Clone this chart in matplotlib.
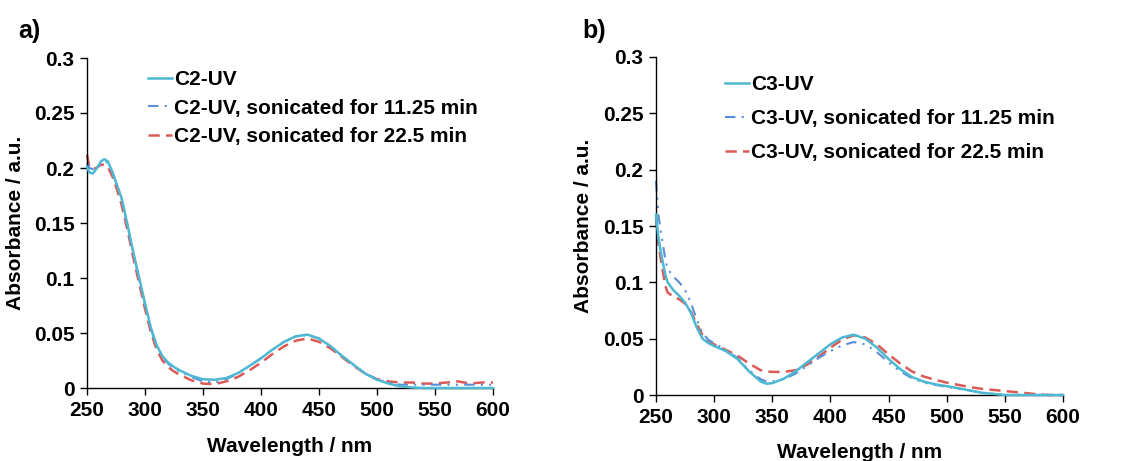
import matplotlib
matplotlib.use("Agg")
import matplotlib.pyplot as plt
from matplotlib.ticker import FixedLocator, FuncFormatter

plt.rcParams['font.family'] = ['Liberation Sans', 'DejaVu Sans']
plt.rcParams['font.weight'] = 'bold'

# ---------------- Panel a data ----------------
wl_a = [250, 252, 255, 258, 262, 265, 268, 272, 276, 280, 285, 290, 295, 300, 305, 310, 315, 320, 325,
        330, 340, 350, 360, 370, 380, 390, 400, 410, 420, 430, 440, 450, 460, 470, 480, 490, 500,
        510, 520, 530, 540, 550, 560, 570, 580, 590, 600]
c2_uv = [0.201, 0.196, 0.195, 0.199, 0.206, 0.208, 0.206, 0.196, 0.184, 0.172, 0.148, 0.123, 0.100,
         0.077, 0.055, 0.039, 0.029, 0.023, 0.019, 0.016, 0.011, 0.008, 0.0075, 0.009, 0.0135, 0.020,
         0.027, 0.035, 0.042, 0.047, 0.0485, 0.045, 0.038, 0.029, 0.021, 0.013, 0.0075, 0.004, 0.0015,
         0.0005, 0.0, 0.0, 0.0, 0.0, 0.0, 0.0, 0.0]
c2_son_1125 = [0.205, 0.200, 0.199, 0.200, 0.204, 0.206, 0.205, 0.196, 0.184, 0.171, 0.147, 0.122, 0.099,
               0.076, 0.054, 0.038, 0.028, 0.022, 0.018, 0.015, 0.010, 0.006, 0.005, 0.008, 0.013, 0.020,
               0.027, 0.035, 0.042, 0.047, 0.048, 0.045, 0.038, 0.029, 0.021, 0.013, 0.008, 0.005, 0.003,
               0.003, 0.003, 0.003, 0.003, 0.003, 0.003, 0.003, 0.003]
c2_son_225 = [0.212, 0.201, 0.199, 0.200, 0.203, 0.203, 0.201, 0.192, 0.180, 0.166, 0.143, 0.118, 0.095,
              0.072, 0.051, 0.035, 0.025, 0.019, 0.015, 0.012, 0.007, 0.004, 0.0035, 0.006, 0.010, 0.016,
              0.023, 0.031, 0.038, 0.043, 0.045, 0.042, 0.036, 0.028, 0.020, 0.013, 0.008, 0.006, 0.005,
              0.005, 0.004, 0.004, 0.005, 0.006, 0.004, 0.005, 0.005]

# ---------------- Panel b data ----------------
wl_b = [250, 252, 255, 258, 260, 265, 270, 275, 280, 285, 290, 295, 300, 310, 320, 330, 340, 345, 350,
        360, 370, 380, 390, 400, 410, 420, 430, 440, 450, 460, 470, 480, 490, 500, 510, 520, 530, 540,
        550, 560, 570, 580, 590, 600]
c3_uv = [0.160, 0.140, 0.122, 0.107, 0.100, 0.093, 0.088, 0.082, 0.073, 0.060, 0.050, 0.046, 0.0435,
         0.039, 0.032, 0.021, 0.012, 0.010, 0.0105, 0.0145, 0.021, 0.029, 0.037, 0.045, 0.051, 0.0535,
         0.050, 0.042, 0.032, 0.023, 0.016, 0.012, 0.0095, 0.0078, 0.006, 0.004, 0.002, 0.001, 0.0, 0.0,
         0.0, 0.0, 0.0, 0.0]
c3_son_1125 = [0.190, 0.160, 0.140, 0.120, 0.112, 0.105, 0.100, 0.093, 0.082, 0.067, 0.055, 0.049, 0.046,
               0.040, 0.033, 0.022, 0.014, 0.012, 0.012, 0.014, 0.019, 0.026, 0.033, 0.039, 0.044, 0.047,
               0.045, 0.038, 0.029, 0.021, 0.015, 0.011, 0.009, 0.0072, 0.0055, 0.004, 0.002, 0.001, 0.0,
               0.0, 0.0, 0.0, 0.0, 0.0]
c3_son_225 = [0.158, 0.135, 0.115, 0.097, 0.091, 0.087, 0.085, 0.081, 0.074, 0.063, 0.053, 0.047, 0.045,
              0.040, 0.035, 0.028, 0.022, 0.021, 0.0205, 0.0205, 0.022, 0.027, 0.034, 0.042, 0.049, 0.053,
              0.051, 0.045, 0.036, 0.028, 0.021, 0.0165, 0.0135, 0.011, 0.009, 0.007, 0.0055, 0.0045,
              0.0035, 0.0025, 0.0015, 0.0005, 0.0, 0.0]

labels_a = ["C2-UV", "C2-UV, sonicated for 11.25 min", "C2-UV, sonicated for 22.5 min"]
labels_b = ["C3-UV", "C3-UV, sonicated for 11.25 min", "C3-UV, sonicated for 22.5 min"]
x_ticks = [250, 300, 350, 400, 450, 500, 550, 600]
y_ticks = [0, 0.05, 0.1, 0.15, 0.2, 0.25, 0.3]

COL_SOLID = '#4DB8D2'
COL_DASHDOT = '#5B8ED8'
COL_DASH = '#DC5A55'

W, H = 1123, 461
fig = plt.figure(figsize=(W / 100, H / 100), dpi=100)


def px_axes(x0, y0, x1, y1):
    return fig.add_axes([x0 / W, 1 - y1 / H, (x1 - x0) / W, (y1 - y0) / H])


ax_a = px_axes(87, 58, 493, 388)
ax_b = px_axes(656, 57, 1063, 395)


def style(ax, wl, series, labels, leg_anchor, labelspacing, ylab_x, xlab_y):
    s0, s1, s2 = series
    ax.plot(wl, s0, color=COL_SOLID, lw=1.8, label=labels[0], zorder=3, clip_on=False)
    ax.plot(wl, s1, color=COL_DASHDOT, lw=1.5, ls=(0, (5, 3, 1, 3, 1, 3)), label=labels[1], zorder=2,
            clip_on=False)
    ax.plot(wl, s2, color=COL_DASH, lw=1.8, ls=(0, (4.5, 2.5)), label=labels[2], zorder=1, clip_on=False)
    ax.set_xlim(250, 600)
    ax.set_ylim(0, 0.3)
    ax.xaxis.set_major_locator(FixedLocator(x_ticks))
    ax.yaxis.set_major_locator(FixedLocator(y_ticks))
    ax.yaxis.set_major_formatter(FuncFormatter(lambda v, p: '%g' % round(v, 3)))
    for sp in ['top', 'right']:
        ax.spines[sp].set_visible(False)
    for sp in ['left', 'bottom']:
        ax.spines[sp].set_linewidth(1.0)
    ax.tick_params(direction='out', length=5, width=1.0, labelsize=15, pad=4)
    for lab in ax.get_xticklabels() + ax.get_yticklabels():
        lab.set_fontweight('bold')
    ax.set_ylabel('Absorbance / a.u.', fontsize=15, fontweight='bold')
    ax.set_xlabel('Wavelength / nm', fontsize=15, fontweight='bold')
    ax.yaxis.set_label_coords(ylab_x, 0.5)
    ax.xaxis.set_label_coords(0.5, xlab_y)
    ax.legend(loc='upper left', bbox_to_anchor=leg_anchor, frameon=False, borderpad=0,
              borderaxespad=0, handlelength=1.15, handletextpad=0.1, labelspacing=labelspacing,
              prop={'size': 15, 'weight': 'bold'})


style(ax_a, wl_a, (c2_uv, c2_son_1125, c2_son_225), labels_a, (0.150, 0.964), 0.47, -0.153, -0.148)
style(ax_b, wl_b, (c3_uv, c3_son_1125, c3_son_225), labels_b, (0.170, 0.947), 0.72, -0.155, -0.142)

fig.text(29 / W, 1 - 31 / H, 'a)', fontsize=18, fontweight='bold', ha='center', va='center')
fig.text(594 / W, 1 - 31 / H, 'b)', fontsize=18, fontweight='bold', ha='center', va='center')

fig.savefig('out.png', dpi=100)
